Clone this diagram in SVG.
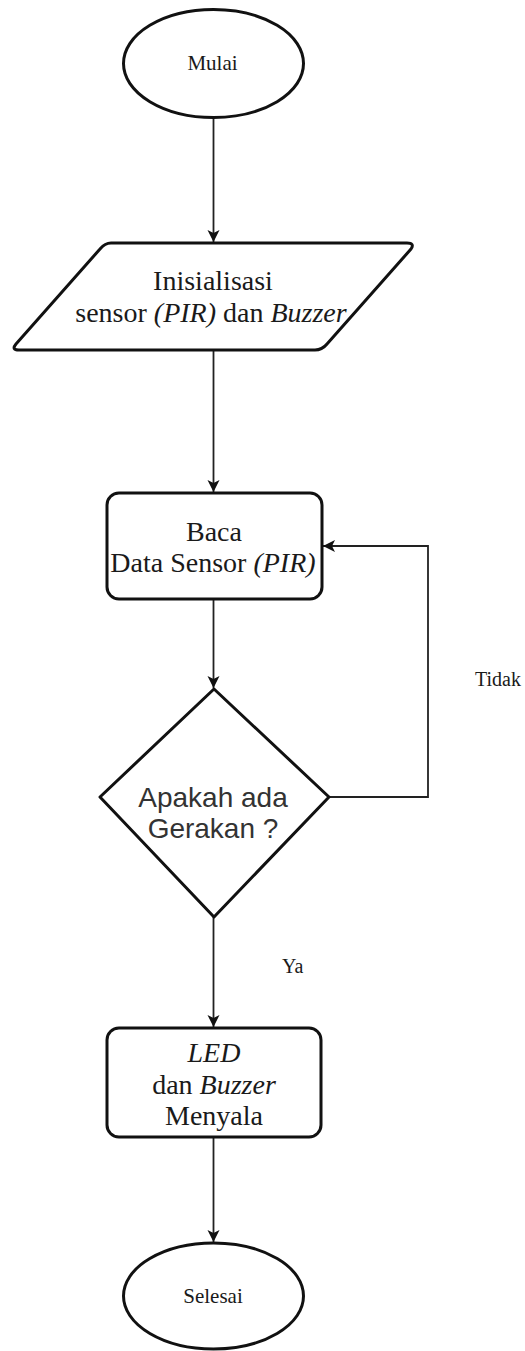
<svg xmlns="http://www.w3.org/2000/svg" width="525" height="1351" viewBox="0 0 525 1351">
  <style>
    .shape { fill: #ffffff; stroke: #111111; stroke-width: 3; stroke-linejoin: round; }
    .edge { fill: none; stroke: #222222; stroke-width: 1.8; }
    .serif { font-family: "Liberation Serif", "Times New Roman", serif; fill: #1a1a1a; }
    .sans { font-family: "Liberation Sans", Arial, sans-serif; fill: #333333; }
    .it { font-style: italic; }
  </style>
  <defs>
    <marker id="arrow" markerWidth="14" markerHeight="14" refX="12" refY="6" orient="auto" markerUnits="userSpaceOnUse">
      <path d="M0,0 L12,6 L0,12 L3,6 z" fill="#111111"/>
    </marker>
  </defs>

  <rect width="525" height="1351" fill="#ffffff"/>

  <!-- connectors -->
  <g id="connectors">
    <line class="edge" x1="213.5" y1="118" x2="213.5" y2="242" marker-end="url(#arrow)"/>
    <line class="edge" x1="213.5" y1="350" x2="213.5" y2="492" marker-end="url(#arrow)"/>
    <line class="edge" x1="213.5" y1="599" x2="213.5" y2="688" marker-end="url(#arrow)"/>
    <line class="edge" x1="213.5" y1="917" x2="213.5" y2="1027" marker-end="url(#arrow)"/>
    <line class="edge" x1="213.5" y1="1137" x2="213.5" y2="1242" marker-end="url(#arrow)"/>
    <polyline class="edge" points="329,797 428,797 428,546 323,546" marker-end="url(#arrow)"/>
    <text class="serif" x="475" y="686" font-size="20">Tidak</text>
    <text class="serif" x="282" y="973" font-size="20">Ya</text>
  </g>

  <!-- start terminator -->
  <g id="start">
    <ellipse class="shape" cx="213.5" cy="63.5" rx="90" ry="54"/>
    <text class="serif" x="212.5" y="70" font-size="21" text-anchor="middle">Mulai</text>
  </g>

  <!-- initialisation input -->
  <g id="init">
    <path class="shape" d="M111,243 L407,243 Q415,243 411,249 L327,344 Q322,350 315,350 L19,350 Q11,350 16,344 L100,249 Q105,243 111,243 z"/>
    <text class="serif" x="213" y="290" font-size="28" text-anchor="middle">Inisialisasi</text>
    <text class="serif" x="211" y="322" font-size="28" text-anchor="middle">sensor <tspan class="it">(PIR)</tspan> dan <tspan class="it">Buzzer</tspan></text>
  </g>

  <!-- read sensor process -->
  <g id="read">
    <rect class="shape" x="107" y="493" width="215" height="106" rx="12" ry="12"/>
    <text class="serif" x="214" y="541" font-size="28" text-anchor="middle">Baca</text>
    <text class="serif" x="213" y="572" font-size="28" text-anchor="middle">Data Sensor <tspan class="it">(PIR)</tspan></text>
  </g>

  <!-- motion decision -->
  <g id="decision">
    <path class="shape" d="M214,689 L329,797 L214,917 L100,797 z"/>
    <text class="sans" x="213" y="807" font-size="28" text-anchor="middle">Apakah ada</text>
    <text class="sans" x="213" y="838" font-size="28" text-anchor="middle">Gerakan ?</text>
  </g>

  <!-- alarm process -->
  <g id="alarm">
    <rect class="shape" x="107" y="1028" width="214" height="109" rx="12" ry="12"/>
    <text class="serif it" x="214" y="1062" font-size="28" text-anchor="middle">LED</text>
    <text class="serif" x="214" y="1094" font-size="28" text-anchor="middle">dan <tspan class="it">Buzzer</tspan></text>
    <text class="serif" x="214" y="1125" font-size="28" text-anchor="middle">Menyala</text>
  </g>

  <!-- end terminator -->
  <g id="end">
    <ellipse class="shape" cx="213.5" cy="1296" rx="90" ry="53"/>
    <text class="serif" x="213" y="1303" font-size="21" text-anchor="middle">Selesai</text>
  </g>
</svg>
